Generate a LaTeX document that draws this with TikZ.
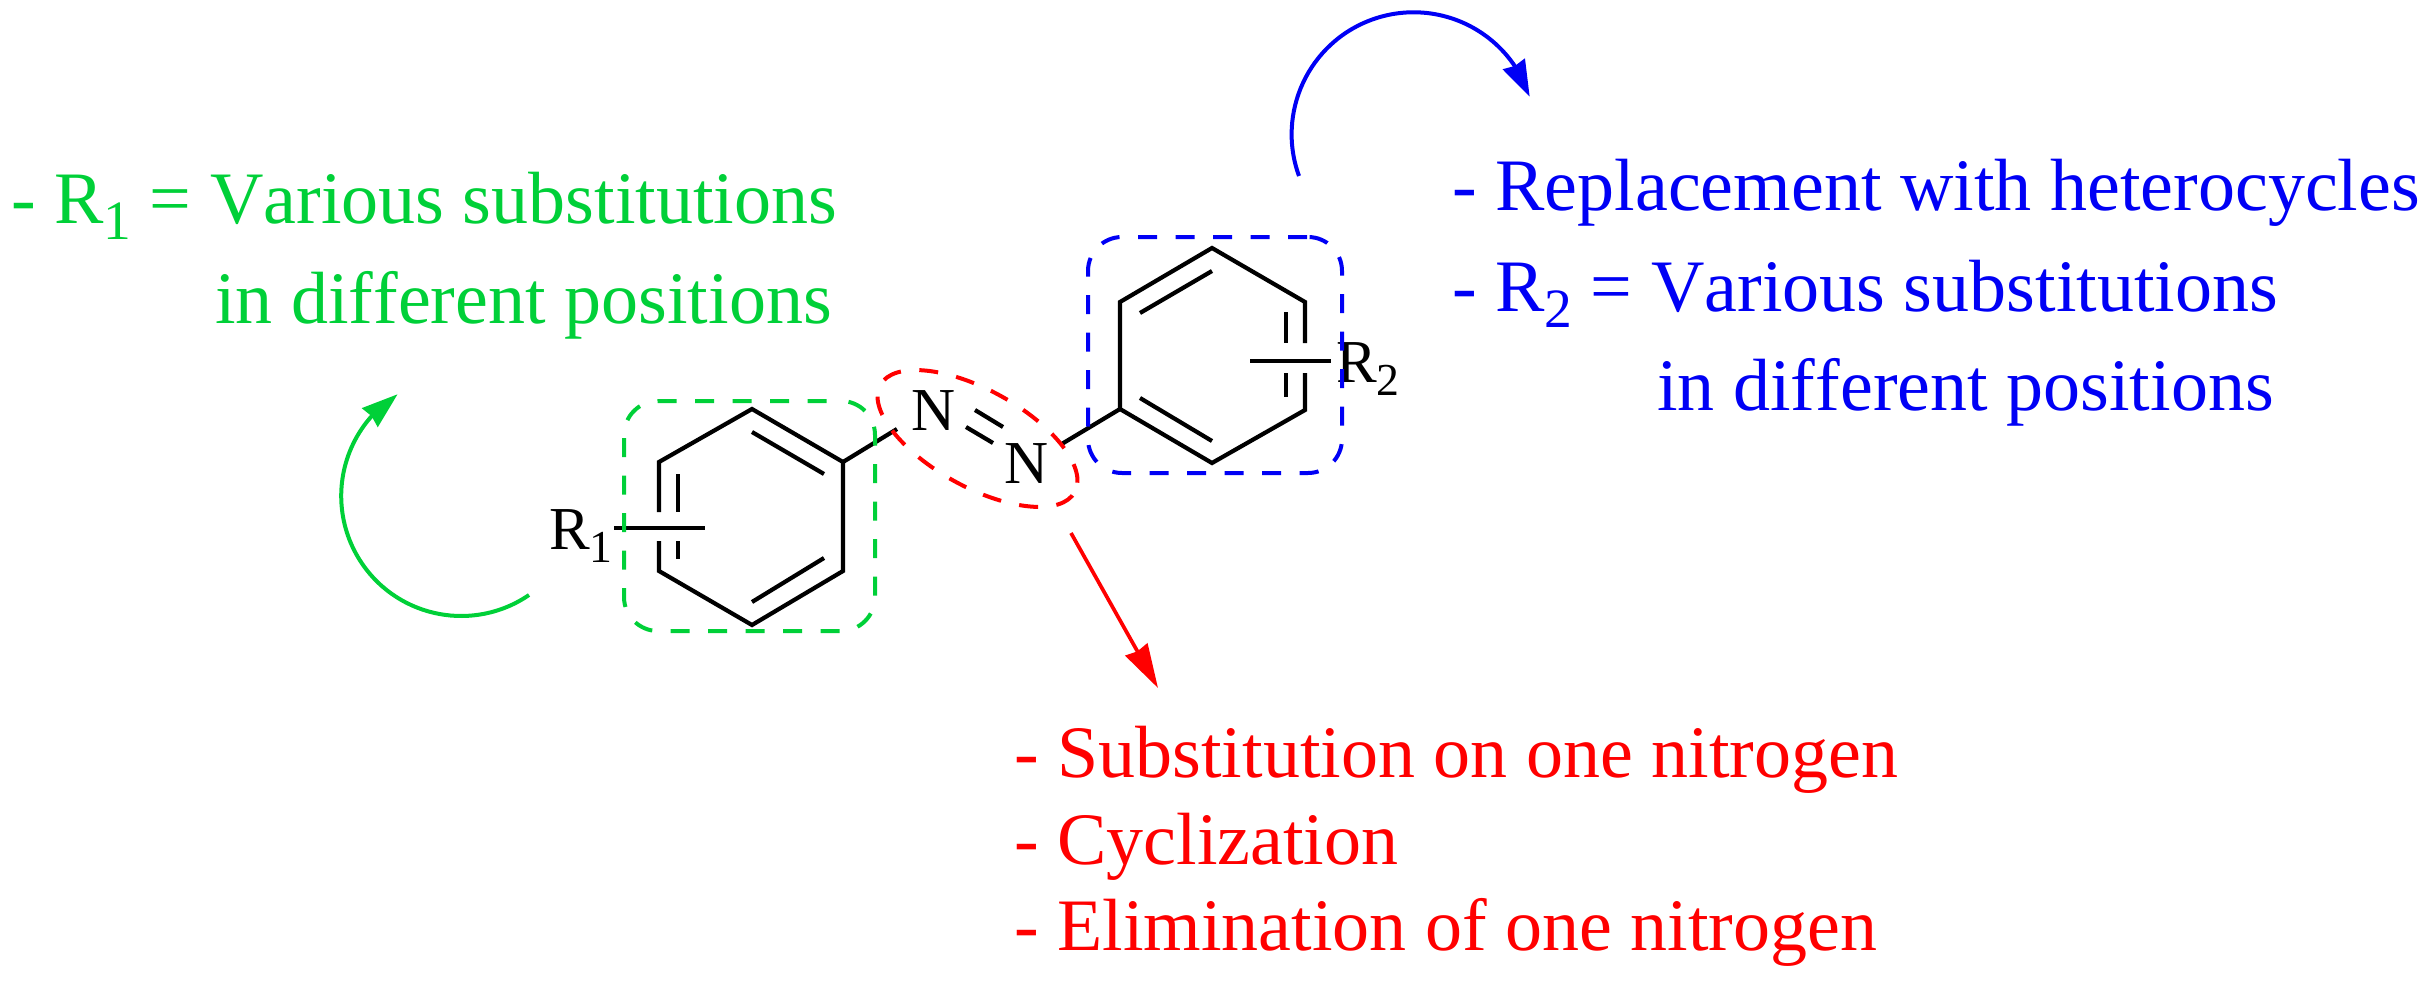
\documentclass[tikz,border=0pt]{standalone}
\usepackage{fontspec}
\setmainfont[Kerning=Off]{Liberation Serif}
\usetikzlibrary{shapes.geometric, arrows.meta, bending}
\definecolor{ringgreen}{RGB}{0,208,56}
\definecolor{ringblue}{RGB}{0,0,245}
\newcommand{\lowsub}[1]{\raisebox{-0.22em}{\scalebox{0.75}{#1}}}

\begin{document}
\begin{tikzpicture}[x=1pt, y=-1pt, line join=miter,
                bond/.style={line width=4.2pt},
                atomlabel/.style={inner sep=0pt, font=\fontsize{61}{61}\selectfont},
                note/.style={inner sep=0pt, anchor=base west, font=\fontsize{74}{74}\selectfont},
                ringbox/.style={draw, line width=4pt, rounded corners=34pt, inner sep=0pt},
                curlyarrow/.style={line width=4pt, -{Stealth[inset=2pt,length=36pt,width=24pt,flex=1]}},
                straightarrow/.style={line width=3.7pt, -{Stealth[inset=2pt,length=44pt,width=25pt]}}]

                \useasboundingbox (0,0) rectangle (2428,980);

                % left ring
                \coordinate (a1) at (752,409);
                \coordinate (a2) at (843,462);
                \coordinate (a3) at (843,571);
                \coordinate (a4) at (752,625);
                \coordinate (a5) at (659,571);
                \coordinate (a6) at (659,462);
                \draw[bond] (659,512) -- (a6) -- (a1) -- (a2) -- (a3) -- (a4) -- (a5) -- (659,541);
                \draw[bond] (752,432) -- (824,474);
                \draw[bond] (752,602) -- (824,558);
                \draw[bond] (678,474) -- (678,512);
                \draw[bond] (678,541) -- (678,559);
                \draw[bond] (614,528) -- (705,528);

                % right ring
                \coordinate (b1) at (1120,409);
                \coordinate (b2) at (1120,302);
                \coordinate (b3) at (1212,248);
                \coordinate (b4) at (1305,302);
                \coordinate (b5) at (1305,410);
                \coordinate (b6) at (1212,463);
                \draw[bond] (1305,343) -- (b4) -- (b3) -- (b2) -- (b1) -- (b6) -- (b5) -- (1305,373);
                \draw[bond] (1140,313) -- (1212,271);
                \draw[bond] (1140,398) -- (1212,441);
                \draw[bond] (1286,312) -- (1286,343);
                \draw[bond] (1286,373) -- (1286,397);
                \draw[bond] (1250,361) -- (1331,361);

                % azo bridge
                \node[atomlabel] (n1) at (934,411) {N};
                \node[atomlabel] (n2) at (1027,464) {N};
                \draw[bond] (a2) -- (897,429);
                \draw[bond] (1060,445) -- (b1);
                \draw[bond] (975,410) -- (1003,427);
                \draw[bond] (966,427) -- (993,443);

                \node[atomlabel, anchor=base west] (r1) at (549,549) {R\lowsub{1}};
                \node[atomlabel, anchor=base west] (r2) at (1336,382) {R\lowsub{2}};

                % highlighted regions
                \node[ringbox, ringgreen, dash pattern=on 19pt off 18.5pt, dash phase=23pt,
                      minimum width=251pt, minimum height=230pt] (greenring) at (749.5,516) {};
                \node[ringbox, ringblue, dash pattern=on 19pt off 18.5pt, dash phase=36.5pt,
                      minimum width=254pt, minimum height=236pt] (bluering) at (1215,355) {};
                \node[ellipse, draw, red, line width=4pt, dash pattern=on 19pt off 18.5pt, dash phase=27.5pt, rotate=-28.9,
                      minimum width=222pt, minimum height=97pt, inner sep=0pt] (azoring) at (977.5,438.5) {};

                % arrows
                \coordinate (greenstart) at (529,595);
                \coordinate (bluestart) at (1299,176);
                \coordinate (redstart) at (1071,533);
                \coordinate (redtip) at (1158,688);
                \draw[curlyarrow, ringgreen] (greenstart) arc[start angle=55.6, end angle=238, radius=120];
                \draw[curlyarrow, ringblue] (bluestart) arc[start angle=160, end angle=342, radius=122];
                \draw[straightarrow, red] (redstart) -- (redtip);

                % green text
                \node[note, ringgreen] (gone) at (11,223) {- R\lowsub{1} = Various substitutions};
                \node[note, ringgreen] (gtwo) at (215,323) {in different positions};

                % blue text
                \node[note, ringblue] (bone) at (1452,210) {- Replacement with heterocycles};
                \node[note, ringblue] (btwo) at (1452,311) {- R\lowsub{2} = Various substitutions};
                \node[note, ringblue] (bthree) at (1657,410) {in different positions};

                % red text
                \node[note, red] (rone) at (1014,777) {- Substitution on one nitrogen};
                \node[note, red] (rtwo) at (1014,864) {- Cyclization};
                \node[note, red] (rthree) at (1014,950) {- Elimination of one nitrogen};

\end{tikzpicture}
\end{document}
